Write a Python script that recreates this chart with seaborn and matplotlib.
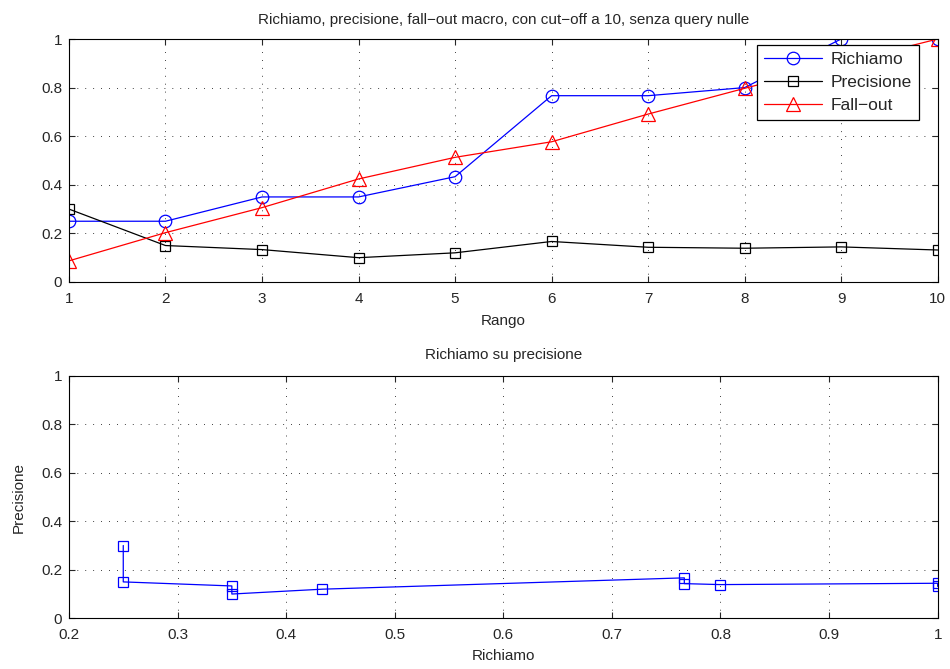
import matplotlib
matplotlib.use("Agg")
import matplotlib.pyplot as plt
import seaborn as sns
import pandas as pd

# Rank positions (cut-off 10)
rango = [1, 2, 3, 4, 5, 6, 7, 8, 9, 10]
# Macro-averaged measures per rank
richiamo = [0.25, 0.25, 0.35, 0.35, 0.4333, 0.7667, 0.7667, 0.80, 1.0, 1.0]
precisione = [0.30, 0.15, 0.1333, 0.10, 0.12, 0.1667, 0.1429, 0.1389, 0.1444, 0.1316]
fallout = [0.087, 0.203, 0.306, 0.424, 0.513, 0.577, 0.691, 0.797, 0.90, 1.0]

y_ticks = [0, 0.2, 0.4, 0.6, 0.8, 1]
y_labels = ["0", "0.2", "0.4", "0.6", "0.8", "1"]
x2_ticks = [0.2, 0.3, 0.4, 0.5, 0.6, 0.7, 0.8, 0.9, 1.0]
x2_labels = ["0.2", "0.3", "0.4", "0.5", "0.6", "0.7", "0.8", "0.9", "1"]

sns.set_style("ticks")
plt.rcParams["font.family"] = ["Liberation Sans", "DejaVu Sans"]
plt.rcParams["axes.linewidth"] = 0.8

df = pd.DataFrame({"Rango": rango, "Richiamo": richiamo,
                   "Precisione": precisione, "Fall-out": fallout})

fig = plt.figure(figsize=(9.5, 6.69), dpi=100)
ax1 = fig.add_axes([0.0726, 0.5785, 0.9144, 0.3632])
ax2 = fig.add_axes([0.0726, 0.0758, 0.9144, 0.3626])

line_kw = dict(linewidth=0.9, markerfacecolor="none", markeredgewidth=0.9)

sns.lineplot(data=df, x="Rango", y="Richiamo", ax=ax1, color="#0000ff",
             marker="o", markersize=9, markeredgecolor="#0000ff",
             label="Richiamo", **line_kw)
sns.lineplot(data=df, x="Rango", y="Precisione", ax=ax1, color="black",
             marker="s", markersize=7.5, markeredgecolor="black",
             label="Precisione", **line_kw)
sns.lineplot(data=df, x="Rango", y="Fall-out", ax=ax1, color="#ff0000",
             marker="^", markersize=9.5, markeredgecolor="#ff0000",
             label="Fall\u2212out", **line_kw)

sns.lineplot(data=df, x="Richiamo", y="Precisione", ax=ax2, color="#0000ff",
             marker="s", markersize=7.5, markeredgecolor="#0000ff",
             sort=False, estimator=None, **line_kw)

for ax in (ax1, ax2):
    ax.set_ylim(0, 1)
    ax.set_yticks(y_ticks)
    ax.set_yticklabels(y_labels)
    ax.grid(True, linestyle=(0, (1, 8.5)), color="black", linewidth=0.6)
    ax.tick_params(direction="in", top=True, right=True, length=4,
                   width=0.8, labelsize=11)
    ax.tick_params(axis="x", pad=7)
    ax.tick_params(axis="y", pad=5)
    for s in ax.spines.values():
        s.set_visible(True)
        s.set_color("black")

ax1.set_xlim(1, 10)
ax1.set_xticks(rango)
ax1.set_xticklabels([str(r) for r in rango])
ax1.set_xlabel("Rango", fontsize=11, labelpad=6)
ax1.set_ylabel("")
ax1.set_title("Richiamo, precisione, fall\u2212out macro, con cut\u2212off a 10, senza query nulle",
              fontsize=11, pad=11)

ax2.set_xlim(0.2, 1)
ax2.set_xticks(x2_ticks)
ax2.set_xticklabels(x2_labels)
ax2.set_xlabel("Richiamo", fontsize=11, labelpad=5)
ax2.set_ylabel("Precisione", fontsize=11, labelpad=11)
ax2.set_title("Richiamo su precisione", fontsize=11, pad=12)

leg = ax1.legend(loc="upper right", bbox_to_anchor=(0.978, 0.975),
                 fontsize=12.5, frameon=True, fancybox=False,
                 handlelength=3.3, borderpad=0.4, labelspacing=0.45,
                 handletextpad=0.5, borderaxespad=0)
leg.get_frame().set_edgecolor("black")
leg.get_frame().set_linewidth(0.9)
leg.get_frame().set_alpha(1)

fig.savefig("out.png", dpi=100)
